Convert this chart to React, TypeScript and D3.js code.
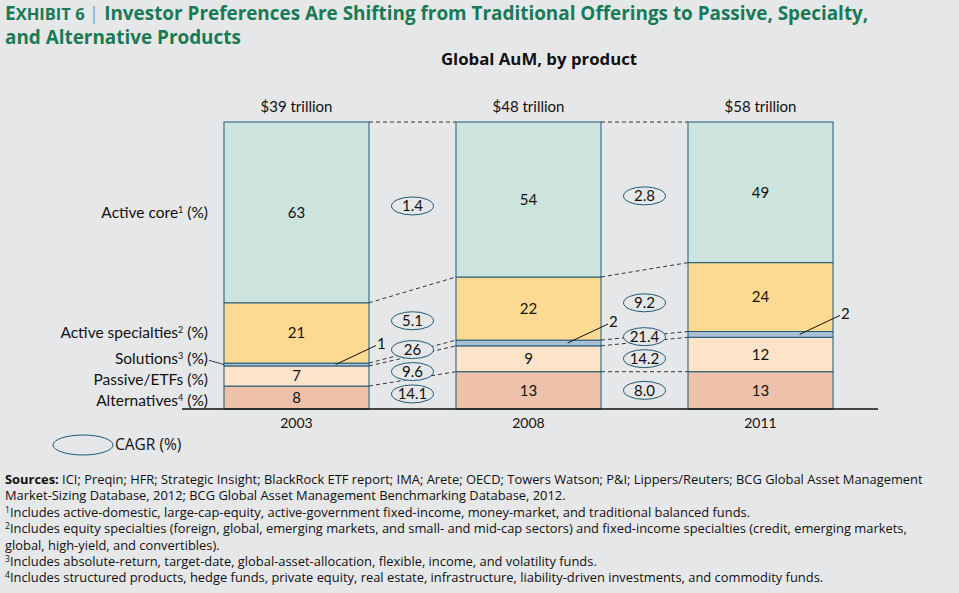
import React, { useEffect, useRef } from 'react';
import * as d3 from 'd3';

const width = 959;
const height = 593;

// Data
const years = ['2003', '2008', '2011'];
const totals = ['$39 trillion', '$48 trillion', '$58 trillion'];
const categories = ['Active core', 'Active specialties', 'Solutions', 'Passive/ETFs', 'Alternatives'];
const footnoteMarks = ['1', '2', '3', '', '4'];
const activeCore = [63, 54, 49];
const activeSpecialties = [21, 22, 24];
const solutions = [1, 2, 2];
const passiveEtfs = [7, 9, 12];
const alternatives = [8, 13, 13];
// CAGR between consecutive years, listed top to bottom like the categories
const cagr2003to2008 = ['1.4', '5.1', '26', '9.6', '14.1'];
const cagr2008to2011 = ['2.8', '9.2', '21.4', '14.2', '8.0'];

const notes = [
  { bold: 'Sources: ', text: 'ICI; Preqin; HFR; Strategic Insight; BlackRock ETF report; IMA; Arete; OECD; Towers Watson; P&I; Lippers/Reuters; BCG Global Asset Management' },
  { text: 'Market-Sizing Database, 2012; BCG Global Asset Management Benchmarking Database, 2012.' },
  { sup: '1', text: 'Includes active-domestic, large-cap-equity, active-government fixed-income, money-market, and traditional balanced funds.' },
  { sup: '2', text: 'Includes equity specialties (foreign, global, emerging markets, and small- and mid-cap sectors) and fixed-income specialties (credit, emerging markets,' },
  { text: 'global, high-yield, and convertibles).' },
  { sup: '3', text: 'Includes absolute-return, target-date, global-asset-allocation, flexible, income, and volatility funds.' },
  { sup: '4', text: 'Includes structured products, hedge funds, private equity, real estate, infrastructure, liability-driven investments, and commodity funds.' },
];

const bg = '#e6e7e8';
const edge = '#1f5a78';
const chartFont = 'Lato, sans-serif';
const textFont = '"Open Sans", sans-serif';

// spread label positions so they keep a minimum gap, clusters centred on their mean
function dodge(ideal: number[], gap: number) {
  const order = ideal.map((v, i) => ({ v, i })).sort((a, b) => a.v - b.v);
  let clusters = order.map((o) => ({ items: [o], mean: o.v }));
  let merged = true;
  const start = (c: any) => c.mean - ((c.items.length - 1) * gap) / 2;
  const end = (c: any) => c.mean + ((c.items.length - 1) * gap) / 2;
  while (merged) {
    merged = false;
    for (let k = 0; k < clusters.length - 1; k++) {
      if (start(clusters[k + 1]) - end(clusters[k]) < gap) {
        const items = clusters[k].items.concat(clusters[k + 1].items);
        const mean = d3.mean(items, (d: any) => d.v) as number;
        clusters.splice(k, 2, { items, mean });
        merged = true;
        break;
      }
    }
  }
  const out = new Array(ideal.length);
  clusters.forEach((c) => c.items.forEach((it, j) => (out[it.i] = start(c) + j * gap)));
  return out as number[];
}

const App = () => {
  const ref = useRef<SVGSVGElement>(null);

  useEffect(() => {
    if (!ref.current) return;
    const svg = d3.select(ref.current);
    svg.selectAll('*').remove();

    svg.append('rect').attr('width', width).attr('height', height).attr('fill', bg);

    const rows = years.map((yr, i) => ({
      year: yr,
      'Active core': activeCore[i],
      'Active specialties': activeSpecialties[i],
      Solutions: solutions[i],
      'Passive/ETFs': passiveEtfs[i],
      Alternatives: alternatives[i],
    }));

    const x = d3.scaleBand().domain(years).range([224, 833]).paddingInner(0.375).paddingOuter(0);
    const y = d3.scaleLinear().domain([0, 100]).range([409, 122]);
    const bw = x.bandwidth();
    const color = d3.scaleOrdinal<string, string>()
      .domain(categories)
      .range(['#cce3de', '#fdda92', '#a9c0d6', '#fde3c8', '#eec1aa']);

    const stackKeys = categories.slice().reverse();
    const series = d3.stack<any>().keys(stackKeys)(rows);
    const byKey: Record<string, any> = {};
    series.forEach((s) => (byKey[s.key] = s));
    const mid = (k: string, i: number) => y((byKey[k][i][0] + byKey[k][i][1]) / 2);

    // dashed connectors between segment tops
    const links = svg.append('g');
    for (let i = 0; i < years.length - 1; i++) {
      series.forEach((s) => {
        links.append('line')
          .attr('x1', (x(years[i]) as number) + bw)
          .attr('y1', y(s[i][1]))
          .attr('x2', x(years[i + 1]) as number)
          .attr('y2', y(s[i + 1][1]))
          .attr('stroke', '#333')
          .attr('stroke-width', 1)
          .attr('stroke-dasharray', '4,3');
      });
    }

    // bars
    const bars = svg.append('g');
    series.forEach((s) => {
      bars.selectAll(null)
        .data(s)
        .enter()
        .append('rect')
        .attr('x', (d: any) => x(d.data.year) as number)
        .attr('y', (d: any) => y(d[1]))
        .attr('width', bw)
        .attr('height', (d: any) => y(d[0]) - y(d[1]))
        .attr('fill', color(s.key))
        .attr('stroke', edge)
        .attr('stroke-width', 1);
    });

    // segment values
    series.forEach((s) => {
      s.forEach((d: any, i: number) => {
        const v = d[1] - d[0];
        const x0 = x(years[i]) as number;
        if (v >= 3) {
          svg.append('text')
            .attr('x', x0 + bw / 2)
            .attr('y', y((d[0] + d[1]) / 2))
            .attr('dy', '0.35em')
            .attr('text-anchor', 'middle')
            .style('font-family', chartFont)
            .style('font-size', '15px')
            .attr('fill', '#111')
            .text(v);
        } else {
          const sx = x0 + bw * 0.77;
          const sy = y((d[0] + d[1]) / 2);
          const ex = x0 + bw + 7;
          const ey = sy - 19;
          svg.append('line')
            .attr('x1', sx).attr('y1', sy).attr('x2', ex).attr('y2', ey)
            .attr('stroke', '#111').attr('stroke-width', 1);
          svg.append('text')
            .attr('x', ex + 1)
            .attr('y', ey - 2)
            .attr('dy', '0.35em')
            .style('font-family', chartFont)
            .style('font-size', '15px')
            .attr('fill', '#111')
            .text(v);
        }
      });
    });

    // CAGR ellipses
    [cagr2003to2008, cagr2008to2011].forEach((vals, g) => {
      const cx = ((x(years[g]) as number) + bw + (x(years[g + 1]) as number)) / 2;
      const ideal = categories.map((k) => (mid(k, g) + mid(k, g + 1)) / 2);
      const pos = dodge(ideal, 22);
      vals.forEach((v, j) => {
        svg.append('ellipse')
          .attr('cx', cx).attr('cy', pos[j])
          .attr('rx', 21).attr('ry', 9)
          .attr('fill', bg)
          .attr('stroke', edge)
          .attr('stroke-width', 1);
        svg.append('text')
          .attr('x', cx)
          .attr('y', pos[j])
          .attr('dy', '0.35em')
          .attr('text-anchor', 'middle')
          .style('font-family', chartFont)
          .style('font-size', '15px')
          .attr('fill', '#111')
          .text(v);
      });
    });

    // category labels on the left
    const labelPos = dodge(categories.map((k) => mid(k, 0)), 21);
    categories.forEach((k, j) => {
      const t = svg.append('text')
        .attr('x', 208)
        .attr('y', labelPos[j])
        .attr('dy', '0.35em')
        .attr('text-anchor', 'end')
        .style('font-family', chartFont)
        .style('font-size', '15.5px')
        .attr('fill', '#111');
      t.append('tspan').text(k);
      if (footnoteMarks[j]) {
        t.append('tspan').attr('dy', -5).style('font-size', '9px').text(footnoteMarks[j]);
        t.append('tspan').attr('dy', 5).text(' (%)');
      } else {
        t.append('tspan').text(' (%)');
      }
      if ((rows[0] as any)[k] < 3) {
        svg.append('line')
          .attr('x1', 209).attr('y1', labelPos[j] + 2)
          .attr('x2', x(years[0]) as number).attr('y2', mid(k, 0))
          .attr('stroke', '#111').attr('stroke-width', 0.8);
      }
    });

    // baseline
    svg.append('line')
      .attr('x1', 182).attr('x2', 878)
      .attr('y1', y(0)).attr('y2', y(0))
      .attr('stroke', '#111').attr('stroke-width', 1.3);

    // years and totals
    years.forEach((yr, i) => {
      const cx = (x(yr) as number) + bw / 2;
      svg.append('text')
        .attr('x', cx).attr('y', y(0) + 14).attr('dy', '0.35em')
        .attr('text-anchor', 'middle')
        .style('font-family', chartFont).style('font-size', '14px')
        .attr('fill', '#111')
        .text(yr);
      svg.append('text')
        .attr('x', cx).attr('y', y(100) - 15).attr('dy', '0.35em')
        .attr('text-anchor', 'middle')
        .style('font-family', chartFont).style('font-size', '15px')
        .attr('fill', '#111')
        .text(totals[i]);
    });

    // legend
    svg.append('ellipse')
      .attr('cx', 83).attr('cy', 445).attr('rx', 30).attr('ry', 10)
      .attr('fill', bg).attr('stroke', edge).attr('stroke-width', 1);
    svg.append('text')
      .attr('x', 115).attr('y', 445).attr('dy', '0.35em')
      .style('font-family', textFont).style('font-size', '15.5px')
      .attr('fill', '#111')
      .text('CAGR (%)');

    // title
    const title = svg.append('text')
      .attr('x', 5).attr('y', 20)
      .style('font-family', textFont)
      .style('font-weight', 'bold')
      .attr('fill', '#197a56');
    title.append('tspan').style('font-size', '19px').text('E');
    title.append('tspan').style('font-size', '16.5px').text('XHIBIT 6 ');
    title.append('tspan').style('font-size', '19px').style('font-weight', 'normal').attr('fill', '#8aa89a').text('|');
    title.append('tspan').style('font-size', '18.9px')
      .text(' Investor Preferences Are Shifting from Traditional Offerings to Passive, Specialty,');
    svg.append('text')
      .attr('x', 5).attr('y', 44)
      .style('font-family', textFont).style('font-weight', 'bold').style('font-size', '18.9px')
      .attr('fill', '#197a56')
      .text('and Alternative Products');

    svg.append('text')
      .attr('x', 539).attr('y', 59).attr('dy', '0.35em')
      .attr('text-anchor', 'middle')
      .style('font-family', textFont).style('font-weight', 'bold').style('font-size', '16.8px')
      .attr('fill', '#111')
      .text('Global AuM, by product');

    // notes
    notes.forEach((n, i) => {
      const t = svg.append('text')
        .attr('x', 5).attr('y', 484 + i * 16.4)
        .style('font-family', textFont).style('font-size', '12.9px')
        .attr('fill', '#111');
      if (n.bold) t.append('tspan').style('font-weight', 'bold').text(n.bold);
      if (n.sup) {
        t.append('tspan').attr('dy', -4).style('font-size', '8.5px').text(n.sup);
        t.append('tspan').attr('dy', 4).text(n.text);
      } else {
        t.append('tspan').text(n.text);
      }
    });
  }, []);

  return (
    <svg
      ref={ref}
      width={width}
      height={height}
      style={{ position: 'absolute', left: 0, top: 0, display: 'block' }}
    />
  );
};

export default App;
